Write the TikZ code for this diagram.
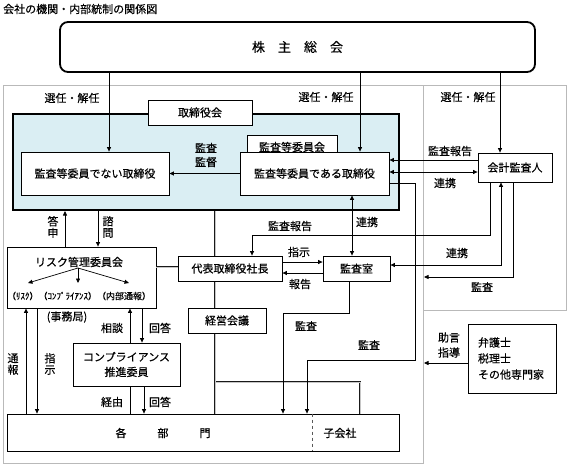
\documentclass[tikz,border=0pt]{standalone}
\usepackage{fontspec}
\setmainfont{Noto Sans CJK JP}[FakeBold=0.4]
\usetikzlibrary{arrows.meta}
\definecolor{lblue}{RGB}{218,238,243}
\pgfdeclarelayer{bg}
\pgfdeclarelayer{mid}
\pgfsetlayers{bg,mid,main}
\begin{document}
\begin{tikzpicture}[x=1pt,y=-1pt,
  font=\fontsize{11}{13}\selectfont,
  box/.style={draw, fill=white, line width=0.8pt, inner sep=0pt},
  gline/.style={draw=gray!55, line width=0.6pt},
  arr/.style={line width=0.7pt, -{Triangle[length=4.5pt,width=4pt]}},
  arrs/.style={line width=0.7pt, {Triangle[length=4.5pt,width=4pt]}-{Triangle[length=4.5pt,width=4pt]}},
  plain/.style={line width=0.7pt},
  dline/.style={draw=black!90, double=gray!45, double distance=0.9pt, line width=0.9pt},
  lbl/.style={inner sep=0pt},
  vlbl/.style={inner sep=0pt, align=center, font=\fontsize{11}{11.5}\selectfont}]
\useasboundingbox (0,0) rectangle (567,466);

% frames and background panel
\begin{pgfonlayer}{bg}
\draw[gline] (3,85) rectangle (423,463);
\draw[gline] (423,85) rectangle (566,310);
\node[draw, line width=2pt, fill=lblue, minimum width=386pt, minimum height=96pt] (bl) at (206,162) {};
\end{pgfonlayer}

\node[lbl, anchor=west] (title) at (3,9) {会社の機関・内部統制の関係図};

% boxes
\node[draw, line width=1.8pt, rounded corners=8pt, minimum width=475pt, minimum height=50pt, inner sep=0pt, font=\fontsize{13}{15}\selectfont] (sh) at (297.5,47) {株　主　総　会};
\node[box, minimum width=104pt, minimum height=25pt] (bod) at (200,112.5) {取締役会};
\node[box, minimum width=148pt, minimum height=43pt] (nd) at (95,173.5) {監査等委員でない取締役};
\node[box, minimum width=90pt, minimum height=24pt] (ac) at (292,147) {監査等委員会};
\node[box, minimum width=149pt, minimum height=43pt] (ad) at (314.5,173.5) {監査等委員である取締役};
\node[box, minimum width=74pt, minimum height=29pt] (ca) at (515,167.5) {会計監査人};
\node[box, minimum width=104pt, minimum height=25pt] (rep) at (230,268.5) {代表取締役社長};
\node[box, minimum width=67pt, minimum height=25pt] (aud) at (356.5,268.5) {監査室};
\node[box, minimum width=78pt, minimum height=25pt] (mgmt) at (227,320.5) {経営会議};
\node[box, minimum width=149pt, minimum height=61pt] (risk) at (81.5,277.5) {};
\node[lbl] (risktitle) at (79,262) {リスク管理委員会};
\node[lbl, font=\fontsize{9}{10}\selectfont] (risksub) at (79,296) {（ﾘｽｸ）（ｺﾝﾌﾟﾗｲｱﾝｽ）（内部通報）};
\node[box, minimum width=107pt, minimum height=43pt, align=center, font=\fontsize{11}{15}\selectfont] (comp) at (126.5,364.5) {コンプライアンス\\推進委員};
\node[box, minimum width=392pt, minimum height=37pt] (dept) at (203,432.5) {};
\node[lbl] (depttext) at (163,433) {各\hspace{31pt}部\hspace{31pt}門};
\node[lbl] (sub) at (340,433) {子会社};
\node[box, minimum width=88pt, minimum height=69pt, align=left, text width=68pt, font=\fontsize{11}{16}\selectfont] (law) at (512,358.5) {弁護士\\税理士\\その他専門家};

% dashed divider in 各部門
\draw[dashed, line width=0.7pt, gray!70!black] (dept.north -| 312,0) -- (dept.south -| 312,0);

% double (organisational) lines
\begin{pgfonlayer}{mid}
\draw[dline] (215,382) -- (360,382) -- (dept.north -| 360,0);
\draw[dline] (bl.south -| 215,0) -- (dept.north -| 215,0);
\end{pgfonlayer}
\draw[dline] (risk.east |- 0,267) -- (rep.west |- 0,267);

% election / dismissal
\draw[arr] (sh.south -| 109,0) -- (nd.north -| 109,0);
\draw[arr] (sh.south -| 360,0) -- (ad.north -| 360,0);
\draw[arr] (sh.south -| 500,0) -- (ca.north -| 500,0);
\node[lbl] (l1) at (72,98) {選任・解任};
\node[lbl] (l2) at (326,97) {選任・解任};
\node[lbl] (l3) at (468,97) {選任・解任};

% audit & supervision
\draw[arr] (ad.west) -- (nd.east);
\node[vlbl, font=\fontsize{11}{14}\selectfont] (l4) at (206,155) {監査\\監督};

% accounting auditor <-> directors
\draw[arr] (ca.west |- 0,160) -- (ad.east |- 0,160);
\node[lbl] (l5) at (450,151) {監査報告};
\draw[arrs] (ad.east |- 0,172) -- (ca.west |- 0,172);
\node[lbl] (l6) at (445,183) {連携};

% directors audit -> departments
\draw[arr] (ad.east |- 0,183) -- (415,183) -- (415,360) -- (307,360) -- (dept.north -| 307,0);
\node[lbl] (l7) at (369,345) {監査};

% directors <-> audit office
\draw[arrs] (ad.south -| 352,0) -- (aud.north -| 352,0);
\node[lbl] (l8) at (367,222) {連携};

% auditor report -> president
\draw[arr] (ca.south -| 490,0) |- (252,235) -- (rep.north -| 252,0);
\node[lbl] (l9) at (290,226) {監査報告};

% president <-> audit office
\draw[arr] (rep.east |- 0,262) -- (aud.west |- 0,262);
\node[lbl] (l10) at (299,252) {指示};
\draw[arr] (aud.west |- 0,273) -- (rep.east |- 0,273);
\node[lbl] (l11) at (300,284) {報告};

% audit office <-> accounting auditor
\draw[arrs] (aud.east |- 0,265) -| (ca.south -| 501,0);
\node[lbl] (l12) at (457,253) {連携};

% accounting auditor audit -> company
\coordinate (bdA) at (424,277);
\draw[arr] (ca.south -| 513,0) |- (bdA);
\node[lbl] (l13) at (482,287) {監査};

% audit office -> departments
\draw[arr] (aud.south -| 349,0) -- (349,313) -| (dept.north -| 283,0);
\node[lbl] (l14) at (306,326) {監査};

% outside experts
\coordinate (bdB) at (424,363);
\draw[arr] (law.west |- bdB) -- (bdB);
\node[vlbl, font=\fontsize{11}{15}\selectfont] (l15) at (449,345) {助言\\指導};

% risk committee <-> board
\draw[arr] (risk.north -| 65,0) -- (bl.south -| 65,0);
\node[vlbl] (l16) at (53,227) {答\\申};
\draw[arr] (bl.south -| 98,0) -- (risk.north -| 98,0);
\node[vlbl] (l17) at (108,227) {諮\\問};

% inside risk committee
\coordinate (hub) at (78,268);
\coordinate (t1) at (28,283);
\coordinate (t2) at (78,283);
\coordinate (t3) at (129,283);
\draw[arr] (hub) -- (t1);
\draw[arr] (hub) -- (t2);
\draw[arr] (hub) -- (t3);
\node[lbl] (l18) at (67,317) {(事務局)};

% risk committee <-> compliance
\draw[arr] (comp.north -| 130,0) -- (risk.south -| 130,0);
\node[lbl] (l19) at (112,328) {相談};
\draw[arr] (risk.south -| 142,0) -- (comp.north -| 142,0);
\node[lbl] (l20) at (160,328) {回答};

% compliance <-> departments
\draw[plain] (comp.south -| 130,0) -- (dept.north -| 130,0);
\node[lbl] (l21) at (112,402) {経由};
\draw[arr] (comp.south -| 144,0) -- (dept.north -| 144,0);
\node[lbl] (l22) at (160,402) {回答};

% risk committee <-> departments
\draw[arr] (dept.north -| 26,0) -- (risk.south -| 26,0);
\node[vlbl] (l23) at (13,364) {通\\報};
\draw[arr] (risk.south -| 37,0) -- (dept.north -| 37,0);
\node[vlbl] (l24) at (50,364) {指\\示};
\end{tikzpicture}
\end{document}
